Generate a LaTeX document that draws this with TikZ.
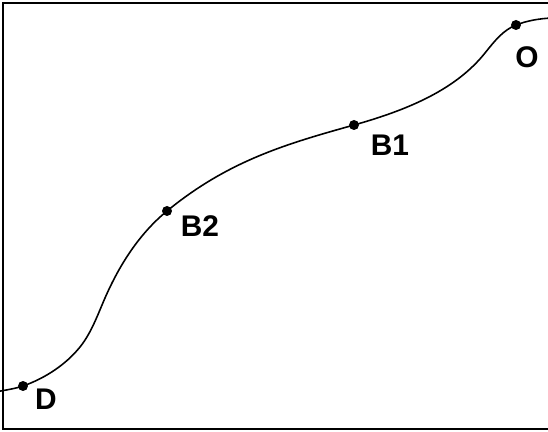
\documentclass[tikz,border=0pt]{standalone}
\usepackage{fontspec}
\setmainfont{Liberation Sans}
\usetikzlibrary{positioning}

\begin{document}
\begin{tikzpicture}[
    x=0.02cm, y=-0.02cm, % one unit per pixel, y downwards
    pt/.style={circle, fill=black, inner sep=0pt, minimum size=0.2cm},
    ptlabel/.style={font=\fontsize{17}{20}\selectfont\bfseries}
]

    \useasboundingbox (0,0) rectangle (548,432);
    \clip (0,0) rectangle (548,432);

    % Frame (its right side runs off the page)
    \draw[line width=1.5pt] (600,3) -- (3,3) -- (3,429) -- (600,429);

    % Points on the curve
    \node[pt] (D) at (23,386) {};
    \node[pt] (B2) at (167,211) {};
    \node[pt] (B1) at (354,125) {};
    \node[pt] (O) at (516,25) {};
    \coordinate (start) at (-2,391.5);
    \coordinate (end) at (552,18);

    % Curve
    \draw[line width=0.9pt] (start)
        .. controls (6,390) and (15.4,388.6) .. (D.center)
        .. controls (44.7,378.4) and (65.6,364.9) .. (80,347)
        .. controls (91.3,333) and (97.8,314.5) .. (105,298)
        .. controls (119.4,265) and (139.2,233.8) .. (B2.center)
        .. controls (228.8,160.3) and (287.6,143.6) .. (B1.center)
        .. controls (411.8,108.8) and (456.9,88.1) .. (485,53)
        .. controls (494.4,41.3) and (503,30.2) .. (O.center)
        .. controls (527.2,20.6) and (540,18.5) .. (end);

    % Labels
    \node[ptlabel] (Dlabel) at (46,399) {D};
    \node[ptlabel] (B2label) at (200,226) {B2};
    \node[ptlabel] (B1label) at (390,145) {B1};
    \node[ptlabel] (Olabel) at (527,57) {O};

\end{tikzpicture}
\end{document}
